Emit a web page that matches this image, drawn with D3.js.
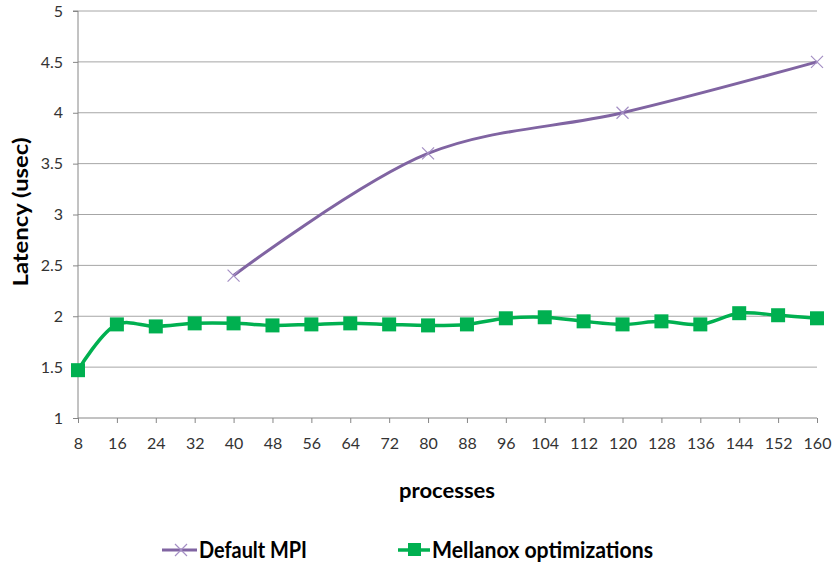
<!DOCTYPE html>
<html><head><meta charset="utf-8">
<script src="https://cdn.jsdelivr.net/npm/d3@7"></script>
<style>body{margin:0;background:#fff}svg{display:block}text{font-family:Lato,"Open Sans",sans-serif}</style>
</head><body><svg id="c" width="833" height="569"></svg>
<script>
const processes = [8,16,24,32,40,48,56,64,72,80,88,96,104,112,120,128,136,144,152,160];
const defaultMPI = [null,null,null,null,2.4,null,null,null,null,3.6,null,null,null,null,4.0,null,null,null,null,4.5];
const mellanox = [1.47,1.92,1.90,1.93,1.93,1.91,1.92,1.93,1.92,1.91,1.92,1.98,1.99,1.95,1.92,1.95,1.92,2.03,2.01,1.98];
const yTicks = [1,1.5,2,2.5,3,3.5,4,4.5,5];
const seriesNames = ["Default MPI","Mellanox optimizations"];
const colors = ["#8064A2","#00B050"];

const svg = d3.select("#c");
const L = 78, R = 817, T = 11, B = 418;
const x = d3.scalePoint().domain(processes).range([L, R]);
const y = d3.scaleLinear().domain([1,5]).range([B, T]);

// gridlines
svg.append("g").selectAll("line").data(yTicks.filter(d=>d>1)).join("line")
  .attr("x1", L).attr("x2", R).attr("y1", d=>y(d)).attr("y2", d=>y(d))
  .attr("stroke", "#a6a6a6").attr("stroke-width", 1);

// y axis
const ya = svg.append("g").attr("transform", `translate(${L},0)`)
  .call(d3.axisLeft(y).tickValues(yTicks).tickSize(5).tickPadding(10).tickFormat(d3.format("")));
ya.select(".domain").attr("stroke", "#868686").attr("d", `M-5,${T}H0V${B}`);
ya.selectAll(".tick line").attr("stroke", "#868686");
ya.selectAll("text").attr("font-size", 16).attr("fill", "#333").style("font-family","Lato,sans-serif");

// x axis
const xa = svg.append("g").attr("transform", `translate(0,${B})`)
  .call(d3.axisBottom(x).tickSize(5).tickPadding(15));
xa.select(".domain").attr("stroke", "#868686").attr("d", `M${L},0H${R}`);
xa.selectAll(".tick line").attr("stroke", "#868686");
xa.selectAll("text").attr("font-size", 16).attr("fill", "#333").style("font-family","Lato,sans-serif");

// axis titles
svg.append("text").attr("transform", "translate(28,212) rotate(-90)")
  .attr("text-anchor", "middle").attr("font-size", 21).attr("font-weight", "bold")
  .attr("textLength", 149).attr("lengthAdjust", "spacingAndGlyphs")
  .text("Latency (usec)");
svg.append("text").attr("x", 447).attr("y", 498).attr("text-anchor", "middle")
  .attr("font-size", 21).attr("font-weight", "bold")
  .attr("textLength", 96).attr("lengthAdjust", "spacingAndGlyphs").text("processes");

// lines
const mpiPts = processes.map((p,i)=>({p, v: defaultMPI[i]})).filter(d=>d.v!=null);
const melPts = processes.map((p,i)=>({p, v: mellanox[i]}));
const line = d3.line().x(d=>x(d.p)).y(d=>y(d.v)).curve(d3.curveCatmullRom.alpha(0.5));

svg.append("path").attr("d", line(mpiPts)).attr("fill","none")
  .attr("stroke", colors[0]).attr("stroke-width", 3);
svg.append("g").selectAll("path").data(mpiPts).join("path")
  .attr("transform", d=>`translate(${x(d.p)},${y(d.v)})`)
  .attr("d", "M-6,-6L6,6M-6,6L6,-6").attr("stroke", "#a48fc4").attr("stroke-width", 1.2);

svg.append("path").attr("d", line(melPts)).attr("fill","none")
  .attr("stroke", colors[1]).attr("stroke-width", 3.5);
svg.append("g").selectAll("rect").data(melPts).join("rect")
  .attr("x", d=>x(d.p)-7).attr("y", d=>y(d.v)-7).attr("width", 14).attr("height", 14)
  .attr("fill", colors[1]);

// legend
const lg = svg.append("g");
lg.append("line").attr("x1",162).attr("x2",197).attr("y1",550).attr("y2",550)
  .attr("stroke", colors[0]).attr("stroke-width", 3);
lg.append("path").attr("transform","translate(181,550)").attr("d","M-6,-6L6,6M-6,6L6,-6")
  .attr("stroke","#a48fc4").attr("stroke-width",1.2);
lg.append("text").attr("x", 199).attr("y", 558).attr("font-size", 23).attr("font-weight","bold")
  .attr("textLength", 108).attr("lengthAdjust", "spacingAndGlyphs")
  .text(seriesNames[0]);
lg.append("line").attr("x1",398).attr("x2",430).attr("y1",550).attr("y2",550)
  .attr("stroke", colors[1]).attr("stroke-width", 3.5);
lg.append("rect").attr("x",408).attr("y",543).attr("width",13).attr("height",13).attr("fill",colors[1]);
lg.append("text").attr("x", 432).attr("y", 558).attr("font-size", 23).attr("font-weight","bold")
  .attr("textLength", 221).attr("lengthAdjust", "spacingAndGlyphs")
  .text(seriesNames[1]);
</script></body></html>
